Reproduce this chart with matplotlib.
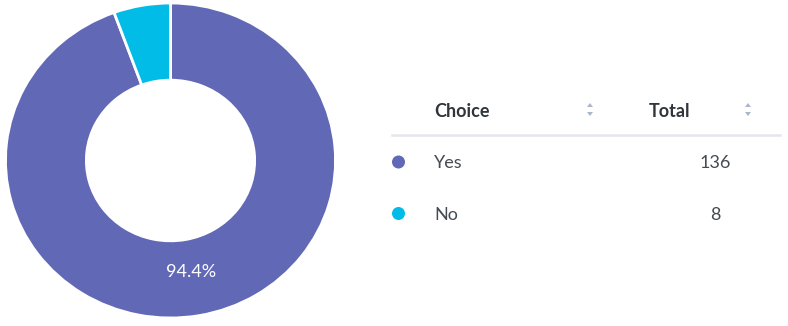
import matplotlib.pyplot as plt
from matplotlib.patches import Circle, Polygon

choices = ["Yes", "No"]
totals = [136, 8]
colors = ["#6168B6", "#00BCE7"]

plt.rcParams["font.family"] = ["Lato", "DejaVu Sans"]

fig = plt.figure(figsize=(7.88, 3.26), dpi=100)
W, H = 788, 326

# donut (slightly squashed, like the source)
ax = fig.add_axes([5.5 / W, 8 / H, 330 / W, 315 / H])


def pct(p):
    return f"{p:.1f}%" if p > 20 else ""


wedges, _, autotexts = ax.pie(
    totals, colors=colors, startangle=90, counterclock=False,
    radius=1, wedgeprops=dict(width=0.49, edgecolor="white", linewidth=2),
    autopct=pct, pctdistance=0.72,
    textprops=dict(color="white", fontsize=13),
)
ax.set_aspect("auto")
ax.set_xlim(-1, 1)
ax.set_ylim(-1, 1)
ax.axis("off")

# table overlay in pixel coordinates
tx = fig.add_axes([0, 0, 1, 1])
tx.set_xlim(0, W)
tx.set_ylim(H, 0)
tx.axis("off")

head_col = "#2E353B"
row_col = "#454B52"
tx.text(434, 117, "Choice", fontsize=13, fontweight="bold", color=head_col, va="baseline")
tx.text(649, 117, "Total", fontsize=13, fontweight="bold", color=head_col, va="baseline")
for ax_x in (590, 748):
    tx.add_patch(Polygon([[ax_x - 3, 107], [ax_x + 3, 107], [ax_x, 103]], closed=True,
                         facecolor="#A9B6CC", edgecolor="none"))
    tx.add_patch(Polygon([[ax_x - 3, 112], [ax_x + 3, 112], [ax_x, 116]], closed=True,
                         facecolor="#A9B6CC", edgecolor="none"))
tx.plot([392, 780], [135, 135], color="#E4E7EC", linewidth=1.8)

row_y = [162, 213.5]
for name, val, col, y in zip(choices, totals, colors, row_y):
    tx.add_patch(Circle((398.5, y), 6.5, facecolor=col, edgecolor="none"))
    tx.text(434, y + 6.3, name, fontsize=13, color=row_col, va="baseline")
    tx.text(715, y + 6.3, str(val), fontsize=13, color=row_col, va="baseline", ha="center")

fig.savefig("out.png", dpi=100)
